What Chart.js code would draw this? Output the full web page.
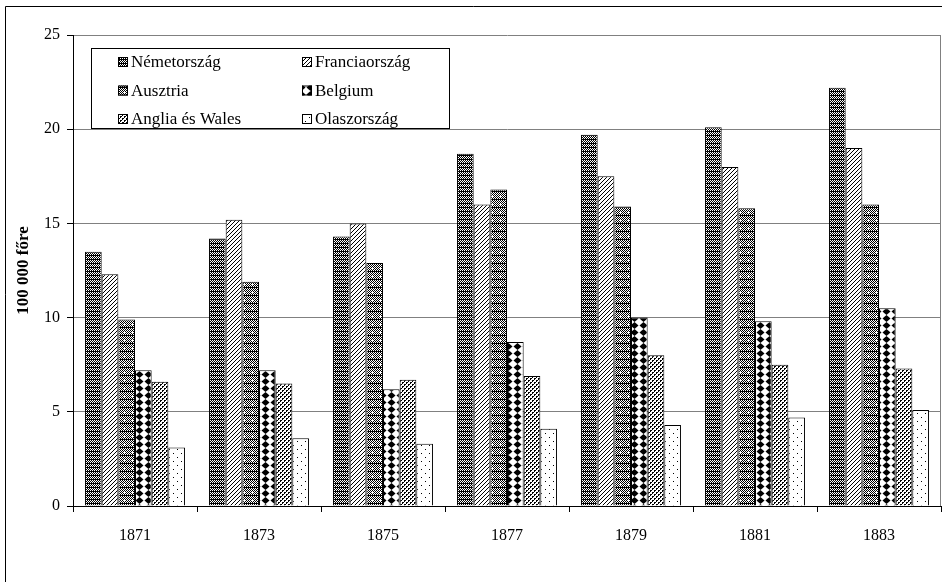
<!DOCTYPE html>
<html>
<head>
<meta charset="utf-8">
<script src="https://cdn.jsdelivr.net/npm/chart.js@4/dist/chart.umd.min.js"></script>
<style>
  html, body { margin: 0; padding: 0; background: #fff; }
  #wrap { width: 942px; height: 582px; position: relative; }
</style>
</head>
<body>
<div id="wrap"><canvas id="chart"></canvas></div>
<script>
// data
const years = ['1871', '1873', '1875', '1877', '1879', '1881', '1883'];
const nemetorszag = [13.5, 14.2, 14.3, 18.7, 19.7, 20.1, 22.2];
const franciaorszag = [12.3, 15.2, 15.0, 16.0, 17.5, 18.0, 19.0];
const ausztria = [9.9, 11.9, 12.9, 16.8, 15.9, 15.8, 16.0];
const belgium = [7.2, 7.2, 6.2, 8.7, 10.0, 9.8, 10.5];
const angliaWales = [6.6, 6.5, 6.7, 6.9, 8.0, 7.5, 7.3];
const olaszorszag = [3.1, 3.6, 3.3, 4.1, 4.3, 4.7, 5.1];
const seriesNames = ['Németország', 'Franciaország', 'Ausztria', 'Belgium', 'Anglia és Wales', 'Olaszország'];
const yTicks = [0, 5, 10, 15, 20, 25];

const FONT = '"Liberation Serif", "DejaVu Serif", serif';

// little bitmap tiles for the hatch fills
function tile(w, h, bg, draw) {
  const c = document.createElement('canvas');
  c.width = w; c.height = h;
  const g = c.getContext('2d');
  g.fillStyle = bg;
  g.fillRect(0, 0, w, h);
  g.fillStyle = '#000';
  draw(g);
  return document.getElementById('chart').getContext('2d').createPattern(c, 'repeat');
}
const px = (g, pts, col) => { if (col) g.fillStyle = col; pts.forEach(p => g.fillRect(p[0], p[1], 1, 1)); };

const patterns = [
  // dark fine grid
  tile(4, 4, '#000', g => px(g, [[0, 0], [2, 0], [1, 1], [3, 1], [0, 2], [2, 2]], '#fff')),
  // diagonal lines
  tile(4, 4, '#fff', g => px(g, [[3, 0], [2, 1], [1, 2], [0, 3]])),
  // checker with white plus
  tile(8, 8, '#fff', g => {
    for (let y = 0; y < 8; y++) for (let x = 0; x < 8; x++) if ((x + y) % 2 === 0 || y === 7) g.fillRect(x, y, 1, 1);
    g.fillStyle = '#fff';
    g.fillRect(3, 4, 3, 1); g.fillRect(4, 3, 1, 3);
  }),
  // diamonds
  tile(9, 7, '#fff', g => {
    g.beginPath();
    g.moveTo(4.5, 0); g.lineTo(8.5, 3.5); g.lineTo(4.5, 7); g.lineTo(0.5, 3.5); g.closePath();
    g.fill();
  }),
  // dense dots
  tile(4, 4, '#fff', g => px(g, [[0, 0], [1, 0], [0, 1], [2, 2], [3, 2], [2, 3]])),
  // sparse dots
  tile(8, 8, '#fff', g => px(g, [[1, 1], [5, 5]]))
];

const frame = {
  id: 'frame',
  beforeDraw(chart) {
    const ctx = chart.ctx;
    ctx.save();
    ctx.strokeStyle = '#000';
    ctx.lineWidth = 1;
    ctx.beginPath();
    ctx.moveTo(5.5, 582); ctx.lineTo(5.5, 6.5); ctx.lineTo(942, 6.5);
    ctx.stroke();
    ctx.restore();
  },
  afterDraw(chart) {
    const ctx = chart.ctx, a = chart.chartArea;
    ctx.save();
    ctx.strokeStyle = '#808080';
    ctx.lineWidth = 1;
    ctx.beginPath();
    ctx.moveTo(a.right - 0.5, a.top); ctx.lineTo(a.right - 0.5, a.bottom);
    ctx.stroke();

    // legend box inside the plot
    const x0 = a.left + 18, y0 = a.top + 13, w = 358, h = 80;
    ctx.fillStyle = '#fff';
    ctx.fillRect(x0, y0, w, h);
    ctx.strokeStyle = '#000';
    ctx.strokeRect(x0 + 0.5, y0 + 0.5, w, h);
    ctx.font = '17px ' + FONT;
    ctx.textBaseline = 'middle';
    chart.data.datasets.forEach((ds, i) => {
      const col = i % 2, row = Math.floor(i / 2);
      const sx = col ? x0 + 211 : x0 + 27;
      const cy = y0 + 14 + row * 28.5;
      ctx.fillStyle = ds.backgroundColor;
      ctx.fillRect(sx, cy - 5, 10, 10);
      ctx.strokeStyle = '#000';
      ctx.strokeRect(sx + 0.5, cy - 4.5, 9, 9);
      ctx.fillStyle = '#000';
      ctx.fillText(ds.label, sx + 13, cy + 1);
    });
    ctx.restore();
  }
};

const seriesData = [nemetorszag, franciaorszag, ausztria, belgium, angliaWales, olaszorszag];

new Chart(document.getElementById('chart'), {
  type: 'bar',
  data: {
    labels: years,
    datasets: seriesData.map((d, i) => ({
      label: seriesNames[i],
      data: d,
      backgroundColor: patterns[i],
      borderColor: '#000',
      borderWidth: 1,
      borderSkipped: 'bottom',
      categoryPercentage: 0.806,
      barPercentage: 1
    }))
  },
  options: {
    responsive: true,
    maintainAspectRatio: false,
    animation: false,
    layout: { padding: { top: 35, right: 1, bottom: 0, left: 0 } },
    plugins: { legend: { display: false }, tooltip: { enabled: false } },
    scales: {
      x: {
        offset: true,
        grid: { offset: true, drawOnChartArea: false, drawTicks: true, tickLength: 6, color: '#000' },
        border: { color: '#000', width: 1 },
        ticks: { color: '#000', font: { family: FONT, size: 16 }, padding: 14 },
        afterFit: s => { s.height = 76; }
      },
      y: {
        min: 0,
        max: 25,
        afterBuildTicks: s => { s.ticks = yTicks.map(v => ({ value: v })); },
        grid: { color: '#808080', tickColor: '#000', tickLength: 6 },
        border: { color: '#000', width: 1 },
        ticks: { color: '#000', font: { family: FONT, size: 16 }, padding: 7 },
        title: {
          display: true,
          text: '100 000 főre',
          color: '#000',
          font: { family: FONT, size: 17, weight: 'bold' },
          padding: { top: 13, bottom: 0 }
        },
        afterFit: s => { s.width = 73; }
      }
    }
  },
  plugins: [frame]
});
</script>
</body>
</html>
